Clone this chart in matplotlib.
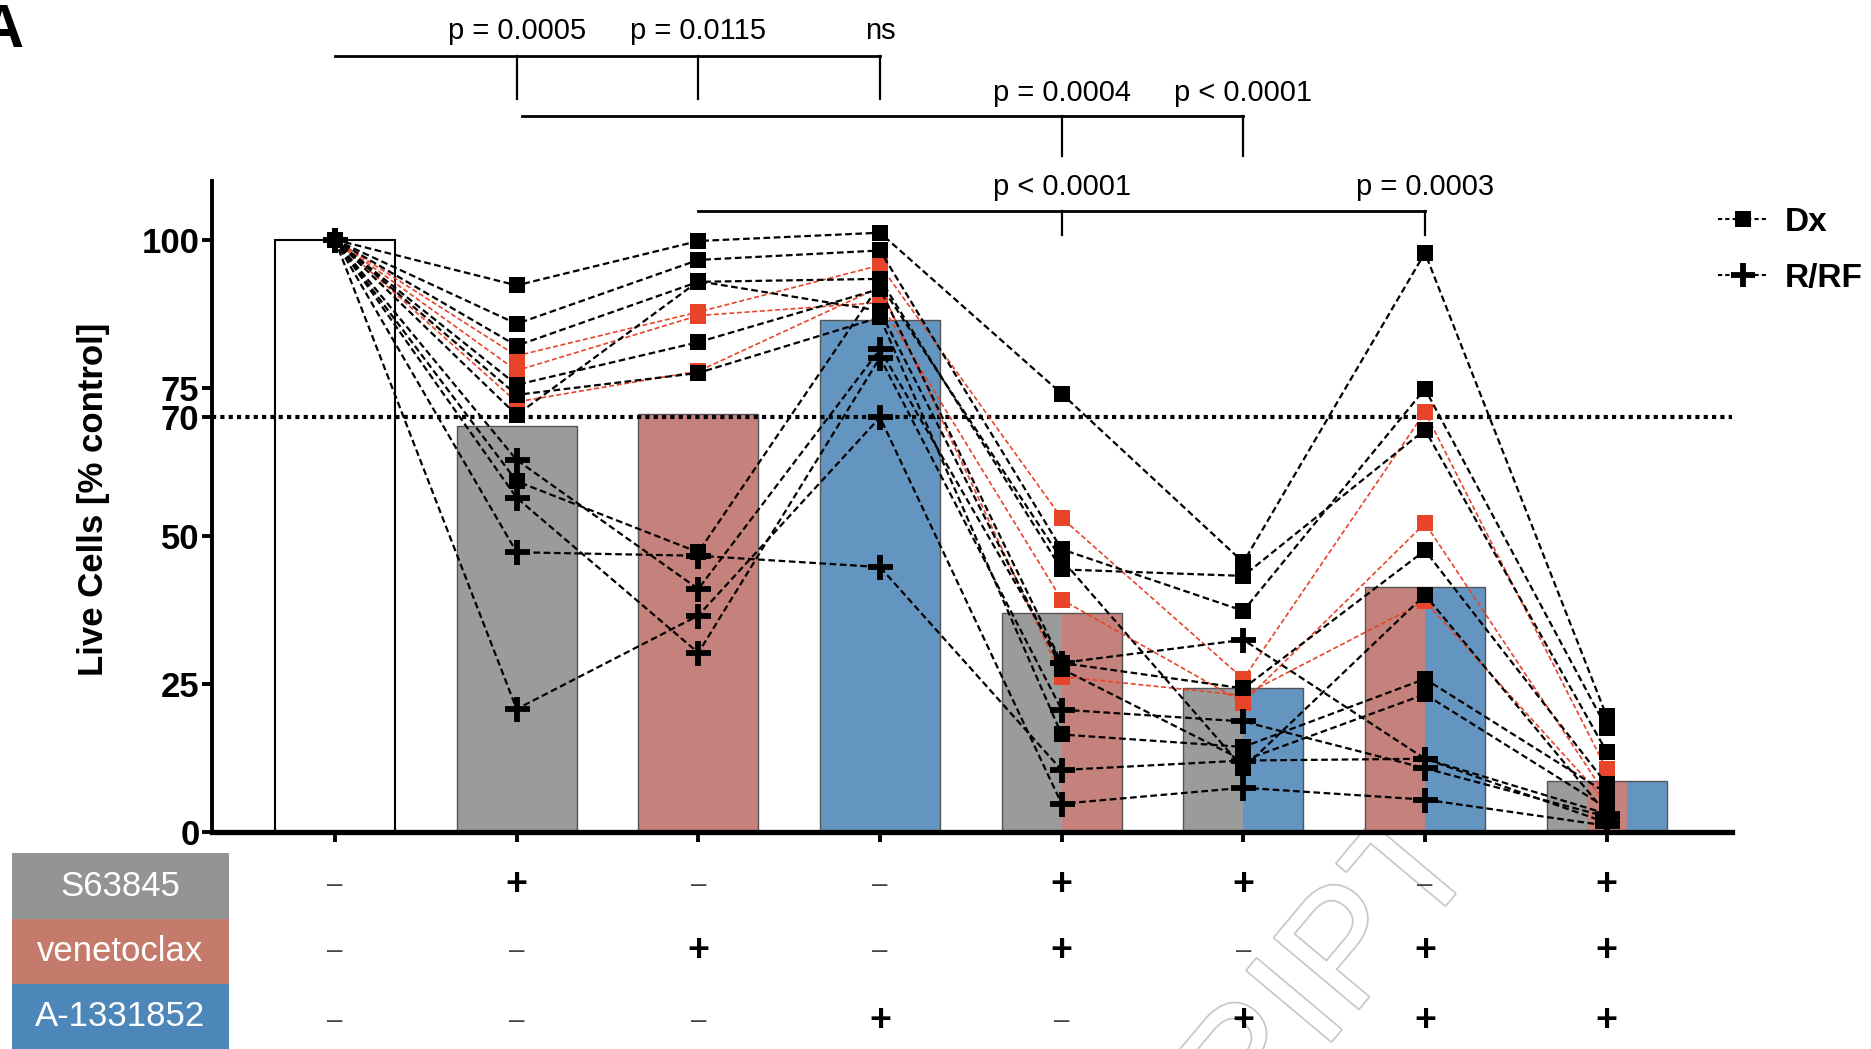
#Live cell viability for each drug combination, with one dashed line per
# patient sample (Dx = squares, R/RF = plus signs)

import matplotlib
matplotlib.use('Agg')
import matplotlib.pyplot as plt
import matplotlib.patheffects as pe
from matplotlib.lines import Line2D
from matplotlib.patches import Rectangle
import numpy as np

plt.rcParams['font.family'] = ['Liberation Sans', 'DejaVu Sans']

###Data
# Conditions along the x axis
conditions = np.arange(8)
# Bar heights - % control
bar_heights = [100, 68.5, 70.6, 86.5, 37.0, 24.2, 41.3, 8.5]

# Treatment table below the axis
drug_names = ['S63845', 'venetoclax', 'A-1331852']
s63845 = ['–', '+', '–', '–', '+', '+', '–', '+']
venetoclax = ['–', '–', '+', '–', '+', '–', '+', '+']
a1331852 = ['–', '–', '–', '+', '–', '+', '+', '+']

# Dx samples drawn in black
dx_black = [
    [100, 92.3, 99.8, 101.2, 74.0, 45.5, 97.8, 19.5],
    [100, 85.8, 96.6, 98.2, 47.7, 37.3, 74.8, 17.5],
    [100, 82.1, 92.9, 93.4, 44.3, 43.2, 67.9, 13.5],
    [100, 75.5, 82.7, 91.7, 28.5, 24.2, 47.5, 8.0],
    [100, 73.8, 77.5, 86.9, 16.4, 14.3, 25.8, 6.5],
    [100, 70.4, 93.0, 88.0, 27.5, 12.0, 23.2, 4.0],
    [100, 59.2, 47.2, 92.5, 46.0, 10.7, 40.0, 3.0],
]
# Dx samples drawn in red
dx_red = [
    [100, 80.4, 87.8, 95.7, 53.0, 25.8, 70.9, 10.5],
    [100, 77.9, 87.2, 89.4, 39.2, 21.8, 52.1, 6.0],
    [100, 72.6, 77.8, 92.0, 26.2, 23.0, 38.9, 5.0],
]
# R/RF samples
rrf = [
    [100, 62.8, 41.0, 81.5, 28.5, 32.4, 12.3, 1.5],
    [100, 56.4, 30.2, 80.1, 20.6, 18.6, 10.7, 2.5],
    [100, 47.2, 46.6, 44.7, 10.4, 12.0, 12.3, 3.0],
    [100, 20.7, 36.5, 70.0, 4.7, 7.4, 5.4, 1.0],
]

# Significance brackets: start, end, drop positions, labels
brackets = [
    (0, 3, [1, 2, 3], ['p = 0.0005', 'p = 0.0115', 'ns']),
    (1.03, 5, [4, 5], ['p = 0.0004', 'p < 0.0001']),
    (2, 6, [4, 6], ['p < 0.0001', 'p = 0.0003']),
]
# bracket heights (% control units above the plot)
bracket_y = [131.0, 121.0, 104.8]
bracket_drop = [123.8, 114.1, 100.8]
label_y = [135.3, 124.8, 108.9]

###Colours
gray = '#9a9c9c'
salmon = '#c5817b'
blue = '#6495c0'
red = '#e8442a'
drug_bar_colors = [gray, salmon, blue]
drug_box_colors = ['#939595', '#c57b6b', '#4d86b8']

fig = plt.figure(figsize=(18.71, 10.49), dpi=100)
ax = fig.add_axes([0.1133, 0.2073, 0.8124, 0.6205])
ax.set_facecolor('none')

###Bars, split by which drugs are in the condition
bar_width = 0.66
table = [s63845, venetoclax, a1331852]
for i in conditions:
    cols = [drug_bar_colors[d] for d in range(3) if table[d][i] == '+']
    left = i - bar_width/2
    if not cols:
        ax.bar(left, bar_heights[i], width=bar_width, align='edge',
               color='white', edgecolor='black', linewidth=1.5, zorder=1)
        continue
    seg = bar_width/len(cols)
    for k, c in enumerate(cols):
        ax.bar(left + k*seg, bar_heights[i], width=seg, align='edge',
               color=c, linewidth=0, zorder=1)
    ax.bar(left, bar_heights[i], width=bar_width, align='edge', fill=False,
           edgecolor='#555555', linewidth=1.0, zorder=1)

# 70 % threshold
ax.axhline(70, color='black', linestyle=(0, (1, 1)), linewidth=3.0, zorder=2)

###Sample lines
dash = (0, (3, 1.6))
for s in dx_red:
    ax.plot(conditions, s, color=red, linestyle=dash, linewidth=1.2,
            marker='s', markersize=12, markeredgewidth=0, zorder=3)
for s in rrf:
    ax.plot(conditions, s, color='black', linestyle=dash, linewidth=1.6,
            marker='+', markersize=18, markeredgewidth=4.2, zorder=4)
for s in dx_black:
    ax.plot(conditions, s, color='black', linestyle=dash, linewidth=1.6,
            marker='s', markersize=12, markeredgewidth=0, zorder=4)

###Axes styling
ax.set_xlim(-0.677, 7.69)
ax.set_ylim(0, 110)
ax.set_yticks([0, 25, 50, 70, 75, 100])
ax.set_xticks(conditions)
ax.set_xticklabels([])
ax.spines['top'].set_visible(False)
ax.spines['right'].set_visible(False)
ax.spines['left'].set_linewidth(2.8)
ax.spines['bottom'].set_linewidth(3.8)
ax.tick_params(axis='y', width=2.8, length=7, labelsize=25, pad=2)
ax.tick_params(axis='x', width=2.8, length=7)
for lbl in ax.get_yticklabels():
    lbl.set_fontweight('bold')
ax.set_ylabel('Live Cells [% control]', fontsize=25, fontweight='bold')
ax.yaxis.set_label_coords(-0.067, 0.51)

###Brackets
for (x0, x1, drops, labels), yb, yd, yl in zip(brackets, bracket_y,
                                               bracket_drop, label_y):
    ax.plot([x0, x1], [yb, yb], color='black', linewidth=2.0, clip_on=False)
    for xd, lab in zip(drops, labels):
        ax.plot([xd, xd], [yb, yd], color='black', linewidth=1.6,
                clip_on=False)
        ax.text(xd, yl, lab, ha='center', va='center', fontsize=21)

###Legend
handles = [
    Line2D([], [], color='black', linestyle=(0, (2, 1.5)), linewidth=1.5,
           marker='s', markersize=11, markeredgewidth=0),
    Line2D([], [], color='black', linestyle=(0, (2, 1.5)), linewidth=1.5,
           marker='+', markersize=17, markeredgewidth=4.2),
]
fig.legend(handles, ['Dx', 'R/RF'], loc='center left',
           bbox_to_anchor=(0.9182, 0.7612), frameon=False,
           prop={'weight': 'bold', 'size': 24}, handlelength=1.5,
           handletextpad=0.5, labelspacing=0.75, borderpad=0,
           borderaxespad=0)

###Treatment table
row_y = [-0.082, -0.183, -0.291]
box_rows = [(0.1239, 0.0629), (0.0620, 0.0619), (0.0, 0.0620)]
for d in range(3):
    y0, h = box_rows[d]
    fig.patches.append(Rectangle((0.0064, y0), 0.116, h,
                                 transform=fig.transFigure,
                                 facecolor=drug_box_colors[d],
                                 edgecolor='none'))
    fig.text(0.0644, y0 + h/2, drug_names[d], ha='center', va='center',
             color='white', fontsize=25)
    for i in conditions:
        sign = table[d][i]
        if sign == '+':
            ax.text(i, row_y[d], '+', transform=ax.get_xaxis_transform(),
                    ha='center', va='center', fontsize=27,
                    fontweight='bold', clip_on=False)
        else:
            ax.text(i, row_y[d], '–', transform=ax.get_xaxis_transform(),
                    ha='center', va='center', fontsize=20, color='#444444',
                    clip_on=False)

# Panel letter, cut by the left edge
fig.text(-0.011, 0.9695, 'A', fontsize=44, fontweight='bold', va='center')

# Manuscript watermark
fig.text(1450/1871, 1 - 835/1049, 'ACCEPTED MANUSCRIPT', fontsize=115,
         rotation=50, rotation_mode='anchor', ha='right', va='center',
         color='white', zorder=-1,
         path_effects=[pe.withStroke(linewidth=2.5, foreground='#c8c8c8')])

fig.savefig('out.png', dpi=100)
